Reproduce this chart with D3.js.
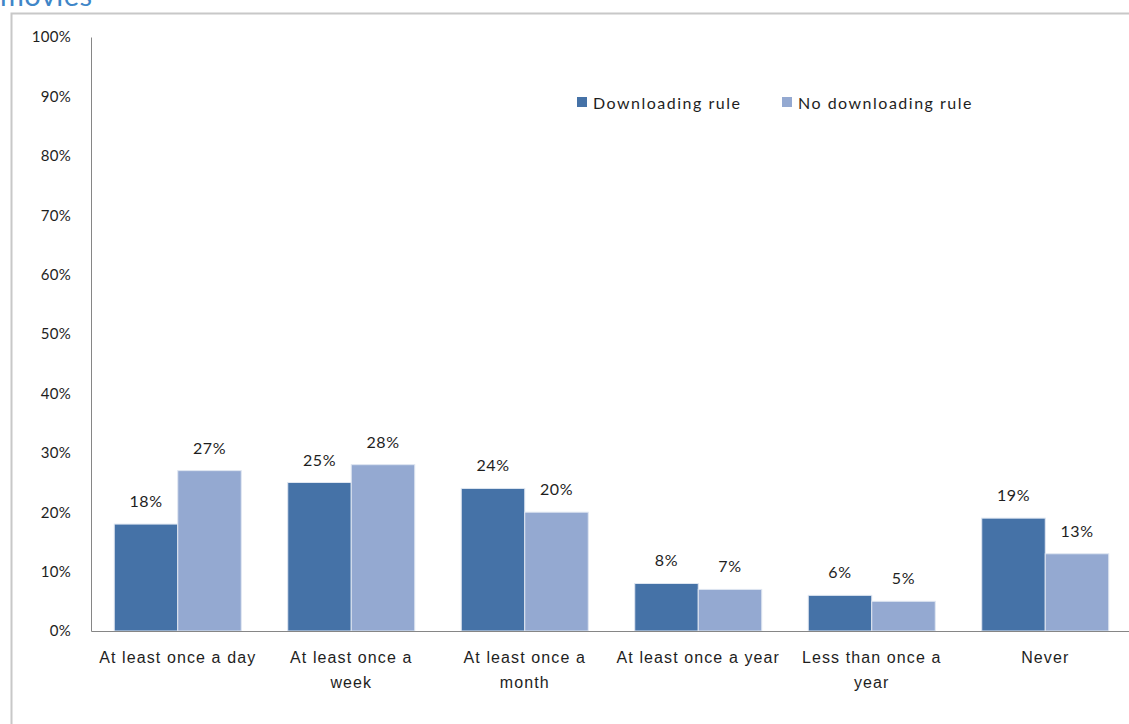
<!DOCTYPE html>
<html>
<head>
<meta charset="utf-8">
<script src="https://cdn.jsdelivr.net/npm/d3@7.9.0/dist/d3.min.js"></script>
<style>
  body { margin: 0; background: #fff; }
  svg { display: block; font-family: Lato, "Open Sans", sans-serif; }
</style>
</head>
<body>
<svg width="1129" height="724"></svg>
<script>
const categories = [
  ['At least once a day'],
  ['At least once a', 'week'],
  ['At least once a', 'month'],
  ['At least once a year'],
  ['Less than once a', 'year'],
  ['Never']
];
const seriesNames = ['Downloading rule', 'No downloading rule'];
const downloading = [18, 25, 24, 8, 6, 19];
const noDownloading = [27, 28, 20, 7, 5, 13];
const yTicks = [0, 10, 20, 30, 40, 50, 60, 70, 80, 90, 100];
const colors = ['#4572a7', '#94a9d1'];

const svg = d3.select('svg');

// title cut off at top of the shot
svg.append('text').attr('x', 0).attr('y', 6)
  .attr('font-size', 29).attr('letter-spacing', 0.5)
  .attr('fill', '#3f86c8').text('movies');

// frame
svg.append('path').attr('d', 'M11.5,724 V13.5 H1129')
  .attr('fill', 'none').attr('stroke', '#c8c8c8').attr('stroke-width', 2);

const plotLeft = 91, plotRight = 1132, plotTop = 37, plotBottom = 631;

const y = d3.scaleLinear().domain([0, 100]).range([plotBottom, plotTop]);
const x0 = d3.scaleBand().domain(d3.range(categories.length))
  .range([plotLeft, plotRight]).paddingInner(0.268).paddingOuter(0.134);
const x1 = d3.scaleBand().domain([0, 1]).range([0, x0.bandwidth()]);

// y axis
const yAxis = d3.axisLeft(y).tickValues(yTicks).tickSize(0).tickPadding(20)
  .tickFormat(d => d + '%');
const gy = svg.append('g').attr('transform', `translate(${plotLeft},0)`).call(yAxis);
gy.select('.domain').attr('stroke', '#868686');
gy.selectAll('text').attr('font-size', 15).attr('fill', '#1e1e1e')
  .attr('font-family', 'Lato').attr('letter-spacing', 0.3);

// bars
const data = categories.map((c, i) => [downloading[i], noDownloading[i]]);
const groups = svg.append('g').selectAll('g').data(data).join('g')
  .attr('transform', (d, i) => `translate(${x0(i)},0)`);
groups.selectAll('rect').data(d => d).join('rect')
  .attr('x', (d, j) => x1(j))
  .attr('y', d => y(d))
  .attr('width', x1.bandwidth())
  .attr('height', d => y(0) - y(d))
  .attr('fill', (d, j) => colors[j])
  .attr('stroke', '#dfe6f1').attr('stroke-width', 1);
groups.selectAll('text').data(d => d).join('text')
  .attr('x', (d, j) => x1(j) + x1.bandwidth() / 2)
  .attr('y', d => y(d) - 17)
  .attr('text-anchor', 'middle').attr('font-size', 16).attr('letter-spacing', 0.6)
  .attr('fill', '#1e1e1e')
  .text(d => d + '%');

// x axis
const xAxis = d3.axisBottom(x0).tickSize(0).tickFormat('');
const gx = svg.append('g').attr('transform', `translate(0,${plotBottom})`).call(xAxis);
gx.select('.domain').attr('stroke', '#868686');
gx.selectAll('.tick').each(function(d) {
  const t = d3.select(this).append('text')
    .attr('text-anchor', 'middle').attr('font-size', 16).attr('letter-spacing', 1.1)
    .attr('fill', '#1e1e1e')
    .attr('y', 32);
  categories[d].forEach((line, k) => {
    t.append('tspan').attr('x', 0).attr('dy', k === 0 ? 0 : 25).text(line);
  });
});

// legend
const legendX = [577, 782];
const legend = svg.append('g').selectAll('g').data(seriesNames).join('g')
  .attr('transform', (d, i) => `translate(${legendX[i]},97)`);
legend.append('rect').attr('width', 10).attr('height', 10)
  .attr('fill', (d, i) => colors[i]);
legend.append('text').attr('x', 16).attr('y', 12)
  .attr('font-size', 16).attr('letter-spacing', 1.5)
  .attr('fill', '#1e1e1e').text(d => d);
</script>
</body>
</html>
